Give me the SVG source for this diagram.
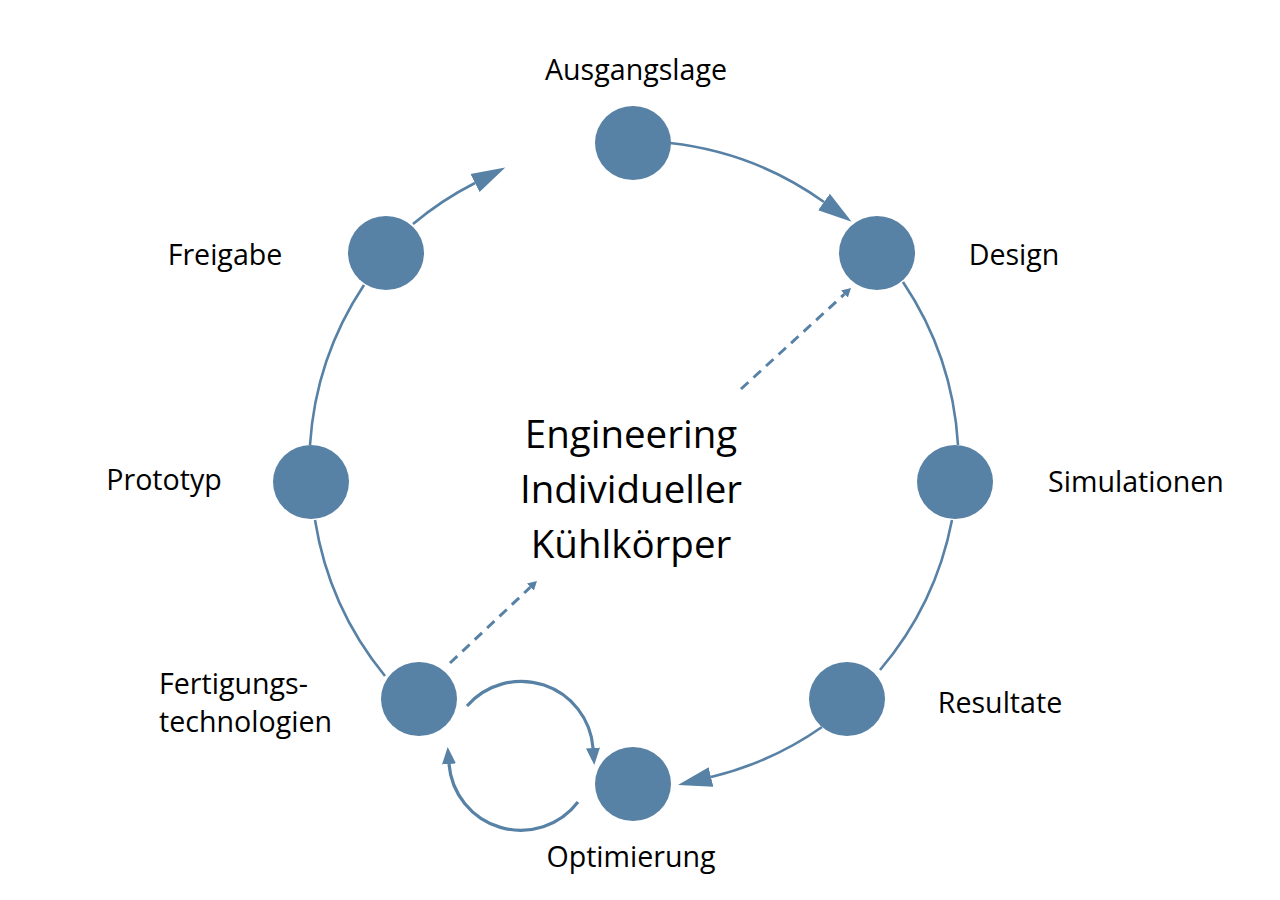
<svg xmlns="http://www.w3.org/2000/svg" width="1280" height="900" viewBox="0 0 1280 900">
<style>
.node{fill:#5781A5}
.lbl{font-family:"Open Sans","Noto Sans","DejaVu Sans",sans-serif;font-size:28.6px;fill:#000}
.mid{text-anchor:middle}
.title{font-family:"Open Sans","Noto Sans","DejaVu Sans",sans-serif;font-size:38.5px;fill:#000;text-anchor:middle}
.arc{fill:none;stroke:#5781A5;stroke-width:2.6}
.loop{fill:none;stroke:#5781A5;stroke-width:3.2}
.dash{fill:none;stroke:#5781A5;stroke-width:3;stroke-dasharray:10 7}
</style>
<defs>
<marker id="big" markerUnits="userSpaceOnUse" markerWidth="40" markerHeight="24" viewBox="0 -12 40 24" refX="0" refY="0" orient="auto"><path d="M0,-10 L34,0 L0,10 z" fill="#5781A5"/></marker>
<marker id="med" markerUnits="userSpaceOnUse" markerWidth="22" markerHeight="18" viewBox="0 -9 22 18" refX="0" refY="0" orient="auto"><path d="M0,-7 L17,0 L0,7 z" fill="#5781A5"/></marker>
<marker id="small" markerUnits="userSpaceOnUse" markerWidth="14" markerHeight="14" viewBox="0 -7 14 14" refX="0" refY="0" orient="auto"><path d="M0,-5 L9,0 L0,5 z" fill="#5781A5"/></marker>
</defs>
<rect width="1280" height="900" fill="#fff"/>
<g id="connectors">
<path class="arc" d="M670,143 A327,327 0 0 1 824,202" marker-end="url(#big)"/>
<path class="arc" d="M903,282 A327,327 0 0 1 958,445"/>
<path class="arc" d="M952,520 A327,327 0 0 1 880,670"/>
<path class="arc" d="M822,727 A327,327 0 0 1 711,777" marker-end="url(#big)"/>
<path class="arc" d="M385,676 A327,327 0 0 1 315,520"/>
<path class="arc" d="M310,445 A327,327 0 0 1 364,285"/>
<path class="arc" d="M413,224 A327,327 0 0 1 475,183" marker-end="url(#big)"/>
<path class="loop" d="M467,706 A72,72 0 0 1 593,748" marker-end="url(#med)"/>
<path class="loop" d="M578,802 A72,72 0 0 1 449,764" marker-end="url(#med)"/>
<path class="dash" d="M741,389 L844.4,294.1" marker-end="url(#small)"/>
<path class="dash" d="M450,663 L530.4,587.2" marker-end="url(#small)"/>
</g>
<g id="ausgangslage"><ellipse class="node" cx="633" cy="143" rx="38" ry="37"/><text class="lbl mid" x="636" y="80">Ausgangslage</text></g>
<g id="design"><ellipse class="node" cx="877" cy="253" rx="38" ry="37"/><text class="lbl mid" x="1014" y="265">Design</text></g>
<g id="simulationen"><ellipse class="node" cx="955" cy="482" rx="38" ry="37"/><text class="lbl mid" x="1136" y="492">Simulationen</text></g>
<g id="resultate"><ellipse class="node" cx="847" cy="699" rx="38" ry="37"/><text class="lbl mid" x="1000" y="713">Resultate</text></g>
<g id="optimierung"><ellipse class="node" cx="633" cy="784" rx="38" ry="37"/><text class="lbl mid" x="631" y="867">Optimierung</text></g>
<g id="fertigung"><ellipse class="node" cx="419" cy="699" rx="38" ry="37"/><text class="lbl" x="159" y="694">Fertigungs-</text><text class="lbl" x="159" y="732">technologien</text></g>
<g id="prototyp"><ellipse class="node" cx="311" cy="482" rx="38" ry="37"/><text class="lbl mid" x="164" y="490">Prototyp</text></g>
<g id="freigabe"><ellipse class="node" cx="386" cy="253" rx="38" ry="37"/><text class="lbl mid" x="225" y="265">Freigabe</text></g>
<g id="center"><text class="title" x="631" y="448">Engineering</text><text class="title" x="631" y="503">Individueller</text><text class="title" x="631" y="558">Kühlkörper</text></g>
</svg>
